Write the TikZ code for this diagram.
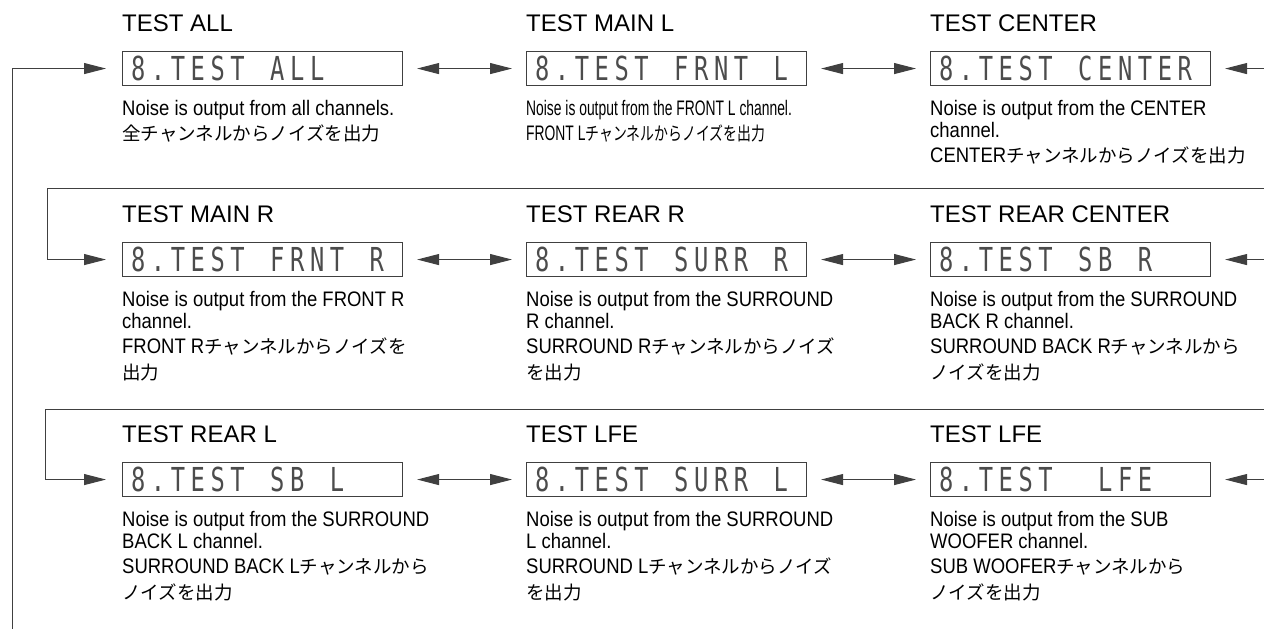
\documentclass[tikz,border=0pt]{standalone}
\usepackage{fontspec}
\setmainfont{Liberation Sans}
\newfontfamily\titlefont{Liberation Sans}
\newfontfamily\bodyfont[FakeStretch=0.88]{Liberation Sans}
\newfontfamily\bodysqueeze[FakeStretch=0.66]{Liberation Sans}
\newfontfamily\jpfont{Noto Sans CJK JP}
\newfontfamily\jpsqueeze[FakeStretch=0.75]{Noto Sans CJK JP}
\newfontfamily\lcdfont[FakeStretch=0.72,LetterSpace=16.9]{DejaVu Sans Mono}
\usetikzlibrary{arrows.meta}

\newcommand\jp[1]{{\fontsize{18.5}{22}\selectfont\jpfont #1}}
\newcommand\jpsq[1]{{\fontsize{18.5}{22}\selectfont\jpsqueeze #1}}
\newcommand\lcdgap{\hspace*{25.5pt}}

\tikzset{
	lcd/.style={draw=black!75, line width=1.1pt, anchor=north west, minimum height=34pt,
		text width=263pt, inner xsep=8.5pt, inner ysep=0pt, text=black!70,
		font=\fontsize{33}{33}\selectfont\lcdfont},
	ttl/.style={anchor=base west, inner sep=0pt, font=\fontsize{24}{28}\selectfont\titlefont},
	note/.style={anchor=north west, inner sep=0pt, align=left, font=\fontsize{21}{22}\selectfont\bodyfont},
	link/.style={draw=black!75, line width=1pt, -{Triangle[length=22pt,width=11pt]}},
	dlink/.style={link, {Triangle[length=22pt,width=11pt]}-{Triangle[length=22pt,width=11pt]},
		shorten <=14pt, shorten >=14pt},
}

\begin{document}
\begin{tikzpicture}[x=1pt,y=-1pt]
	\useasboundingbox (0,0) rectangle (1264,629);

	% display windows
	\foreach \name/\x/\y/\txt in {
		11/122/51/{8.TEST\lcdgap ALL}, 12/526/51/{8.TEST\lcdgap FRNT\lcdgap L},
		13/930/51/{8.TEST\lcdgap CENTER},
		21/122/242/{8.TEST\lcdgap FRNT\lcdgap R}, 22/526/242/{8.TEST\lcdgap SURR\lcdgap R},
		23/930/242/{8.TEST\lcdgap SB\lcdgap R},
		31/122/462/{8.TEST\lcdgap SB\lcdgap L}, 32/526/462/{8.TEST\lcdgap SURR\lcdgap L},
		33/930/462/{8.TEST\lcdgap\hspace*{19.9pt}LFE}} {
		\node[lcd] (d\name) at (\x,\y) {\txt};
	}

	% titles
	\node[ttl] (t11) at ([yshift=19.5pt]d11.north west) {TEST ALL};
	\node[ttl] (t12) at ([yshift=19.5pt]d12.north west) {TEST MAIN L};
	\node[ttl] (t13) at ([yshift=19.5pt]d13.north west) {TEST CENTER};
	\node[ttl] (t21) at ([yshift=19.5pt]d21.north west) {TEST MAIN R};
	\node[ttl] (t22) at ([yshift=19.5pt]d22.north west) {TEST REAR R};
	\node[ttl] (t23) at ([yshift=19.5pt]d23.north west) {TEST REAR CENTER};
	\node[ttl] (t31) at ([yshift=19.5pt]d31.north west) {TEST REAR L};
	\node[ttl] (t32) at ([yshift=19.5pt]d32.north west) {TEST LFE};
	\node[ttl] (t33) at ([yshift=19.5pt]d33.north west) {TEST LFE};

	% notes
	\node[note] (n11) at ([yshift=-14pt]d11.south west)
		{Noise is output from all channels.\\[3pt]\jp{全チャンネルからノイズを出力}};
	\node[note, font=\fontsize{21}{22}\selectfont\bodysqueeze] (n12) at ([yshift=-14pt]d12.south west)
		{Noise is output from the FRONT L channel.\\[3pt]FRONT L\jpsq{チャンネルからノイズを出力}};
	\node[note] (n13) at ([yshift=-14pt]d13.south west)
		{Noise is output from the CENTER\\channel.\\[3pt]CENTER\jp{チャンネルからノイズを出力}};
	\node[note] (n21) at ([yshift=-14pt]d21.south west)
		{Noise is output from the FRONT R\\channel.\\[3pt]FRONT R\jp{チャンネルからノイズを}\\[4pt]\jp{出力}};
	\node[note] (n22) at ([yshift=-14pt]d22.south west)
		{Noise is output from the SURROUND\\R channel.\\[3pt]SURROUND R\jp{チャンネルからノイズ}\\[4pt]\jp{を出力}};
	\node[note] (n23) at ([yshift=-14pt]d23.south west)
		{Noise is output from the SURROUND\\BACK R channel.\\[3pt]SURROUND BACK R\jp{チャンネルから}\\[4pt]\jp{ノイズを出力}};
	\node[note] (n31) at ([yshift=-14pt]d31.south west)
		{Noise is output from the SURROUND\\BACK L channel.\\[3pt]SURROUND BACK L\jp{チャンネルから}\\[4pt]\jp{ノイズを出力}};
	\node[note] (n32) at ([yshift=-14pt]d32.south west)
		{Noise is output from the SURROUND\\L channel.\\[3pt]SURROUND L\jp{チャンネルからノイズ}\\[4pt]\jp{を出力}};
	\node[note] (n33) at ([yshift=-14pt]d33.south west)
		{Noise is output from the SUB\\WOOFER channel.\\[3pt]SUB WOOFER\jp{チャンネルから}\\[4pt]\jp{ノイズを出力}};

	% connectors
	\coordinate (loopend) at (12,629);
	\coordinate (rim) at (1264,0);
	\coordinate (turn2) at (1264,188);
	\coordinate (turn3) at (1264,409);

	\draw[link] (loopend) |- ([xshift=-16pt]d11.west);
	\draw[link] (turn2) -| ([xshift=-75pt]d21.west) -- ([xshift=-16pt]d21.west);
	\draw[link] (turn3) -| ([xshift=-77pt]d31.west) -- ([xshift=-16pt]d31.west);
	\foreach \rw in {1,2,3} {
		\draw[dlink] (d\rw1) -- (d\rw2);
		\draw[dlink] (d\rw2) -- (d\rw3);
		\draw[link] (d\rw3.east -| rim) -- ([xshift=14pt]d\rw3.east);
	}
\end{tikzpicture}
\end{document}
